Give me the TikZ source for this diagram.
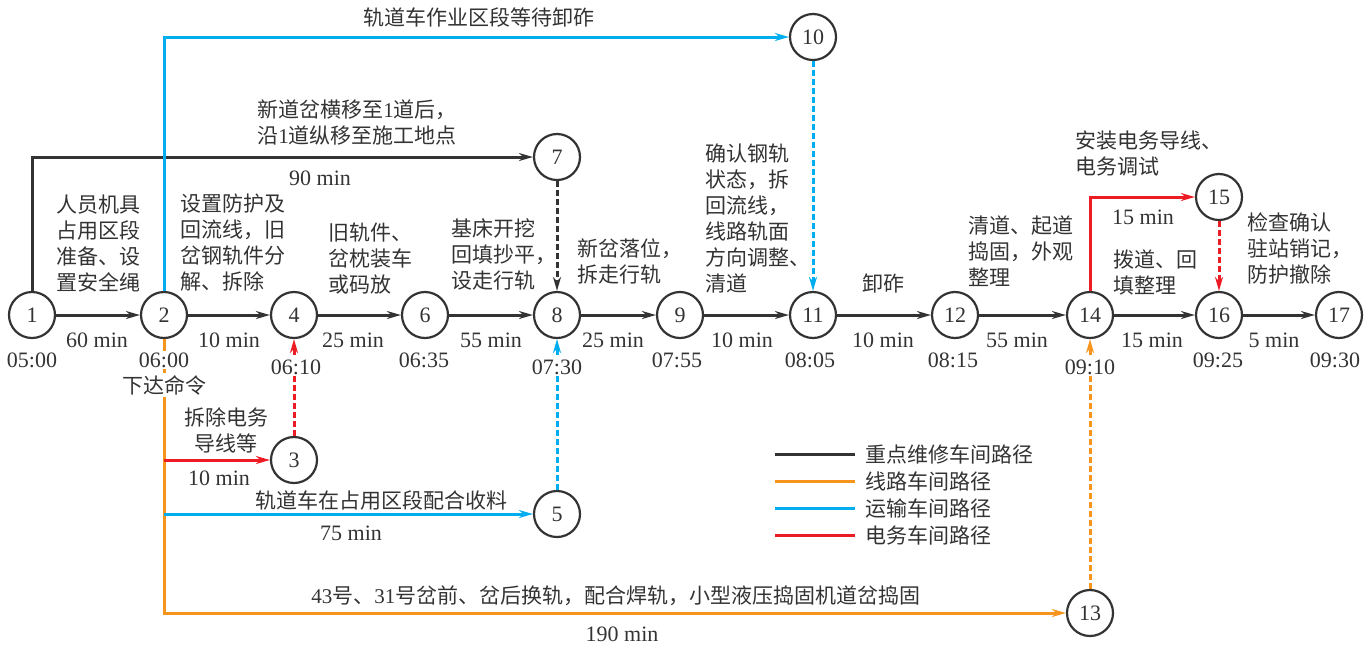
\documentclass[tikz,border=0pt]{standalone}
\usepackage{fontspec}
\setmainfont{Liberation Serif}
\newfontfamily\cjk{Noto Sans CJK SC}
\usetikzlibrary{arrows.meta}

\definecolor{keygray}{HTML}{333333}
\definecolor{lineorange}{HTML}{F7941D}
\definecolor{transblue}{HTML}{00AEEF}
\definecolor{elecred}{HTML}{ED1C24}

\tikzset{
  event/.style={circle, draw=keygray, line width=1.1pt, minimum size=23pt, inner sep=0pt,
    text=keygray, font=\fontsize{11}{13}\selectfont},
  route/.style={line width=1.5pt, -{Stealth[length=7pt,width=4pt]}},
  wait/.style={route, dash pattern=on 3pt off 1.5pt},
  lbl/.style={font=\cjk\fontsize{10.5}{13}\selectfont, align=left, anchor=west,
    inner sep=0pt, text=keygray},
  dur/.style={font=\fontsize{11}{13}\selectfont, inner sep=1pt, text=keygray},
  stamp/.style={dur, fill=white},
}

\begin{document}
\begin{tikzpicture}[x=0.5pt, y=-0.5pt]
    \useasboundingbox (0,0) rectangle (1371,645);

    % events
    \foreach \n/\x/\y in {1/32/315, 2/164/315, 4/294/315, 6/425/315, 8/557/315,
        9/680/315, 11/813/315, 12/955/315, 14/1090/315, 16/1219/315, 17/1339/315,
        3/294/460, 5/557/514, 13/1090/613, 7/557/157, 10/813/37, 15/1219/197}
      \node[event] (\n) at (\x,\y) {\n};

    % key route (black)
    \foreach \a/\b in {1/2, 2/4, 4/6, 6/8, 8/9, 9/11, 11/12, 12/14, 14/16, 16/17}
      \draw[route, keygray] (\a) -- (\b);
    \draw[route, keygray] (1) |- (7);
    \draw[wait, keygray] (7) -- (8);

    % line workshop (orange)
    \draw[route, lineorange] (2) |- (13);
    \draw[wait, lineorange] (13) -- (14);

    % transport workshop (blue)
    \coordinate (c5) at (2 |- 5);
    \draw[route, transblue] (2) |- (10);
    \draw[wait, transblue] (10) -- (11);
    \draw[route, transblue] (c5) -- (5);
    \draw[wait, transblue] (5) -- (8);

    % signal workshop (red)
    \coordinate (c3) at (2 |- 3);
    \draw[route, elecred] (c3) -- (3);
    \draw[wait, elecred] (3) -- (4);
    \draw[route, elecred] (14) |- (15);
    \draw[wait, elecred] (15) -- (16);

    % activity labels
    \node[lbl] (t10) at (363,17) {轨道车作业区段等待卸砟};
    \node[lbl] (t7) at (257,123) {新道岔横移至{\rmfamily 1}道后，\\沿{\rmfamily 1}道纵移至施工地点};
    \node[dur] (d7) at (320,178) {90 min};
    \node[lbl] (a1) at (56,243) {人员机具\\占用区段\\准备、设\\置安全绳};
    \node[lbl] (a2) at (180,243) {设置防护及\\回流线，旧\\岔钢轨件分\\解、拆除};
    \node[lbl] (a4) at (328,258) {旧轨件、\\岔枕装车\\或码放};
    \node[lbl] (a6) at (451,254) {基床开挖\\回填抄平，\\设走行轨};
    \node[lbl] (a8) at (577,261) {新岔落位，\\拆走行轨};
    \node[lbl] (a9) at (705,218) {确认钢轨\\状态，拆\\回流线，\\线路轨面\\方向调整、\\清道};
    \node[lbl] (a11) at (862,283) {卸砟};
    \node[lbl] (a12) at (968,251) {清道、起道\\捣固，外观\\整理};
    \node[lbl] (t15) at (1075,153) {安装电务导线、\\电务调试};
    \node[dur] (d15) at (1143,217) {15 min};
    \node[lbl] (a14) at (1113,272) {拨道、回\\填整理};
    \node[lbl] (a16) at (1247,248) {检查确认\\驻站销记，\\防护撤除};
    \node[lbl, align=center, anchor=center] (t3) at (226,430) {拆除电务\\导线等};
    \node[dur] (d3) at (219,478) {10 min};
    \node[lbl] (t5) at (255,500) {轨道车在占用区段配合收料};
    \node[dur] (d5) at (351,533) {75 min};
    \node[lbl] (t13) at (311,596) {{\rmfamily 43}号、{\rmfamily 31}号岔前、岔后换轨，配合焊轨，小型液压捣固机道岔捣固};
    \node[dur] (d13) at (622,634) {190 min};

    % durations on the key route
    \foreach \x/\t in {97/60, 229/10, 353/25, 491/55, 613/25, 742/10, 883/10,
        1017/55, 1152/15, 1274/5}
      \node[dur] at (\x,340) {\t\ min};

    % times
    \foreach \x/\y/\t in {32/360/05:00, 424/360/06:35, 677/360/07:55, 810/360/08:05,
        953/360/08:15, 1218/360/09:25, 1335/360/09:30, 164/360/06:00,
        296/367/06:10, 557/367/07:30, 1090/367/09:10}
      \node[stamp] at (\x,\y) {\t};
    \node[lbl, anchor=center, fill=white, inner sep=1pt] (order) at (164,385) {下达命令};

    % legend
    \foreach \c/\t [count=\i from 0] in {keygray/重点维修车间路径, lineorange/线路车间路径,
        transblue/运输车间路径, elecred/电务车间路径}
      \draw[\c, line width=1.5pt] (775,{454+27.3*\i}) -- ++(80,0)
        node[lbl, right=4.5pt] {\t};
\end{tikzpicture}
\end{document}
